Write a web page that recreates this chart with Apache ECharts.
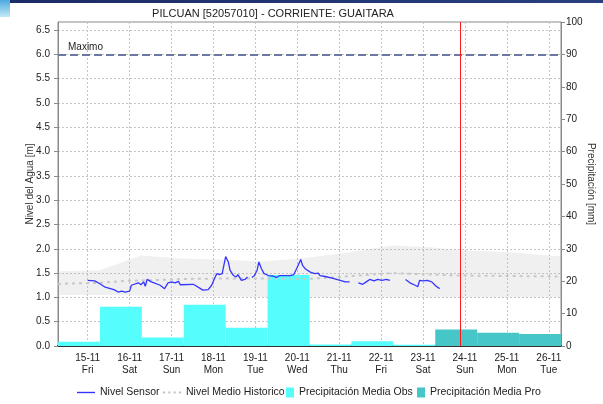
<!DOCTYPE html>
<html><head><meta charset="utf-8">
<script src="https://cdn.jsdelivr.net/npm/echarts@6/dist/echarts.min.js"></script>
<style>html,body{margin:0;padding:0;background:#fff}#c{width:603px;height:404px}</style>
</head><body><div id="c"></div><script>
const chartTitle = 'PILCUAN [52057010] - CORRIENTE: GUAITARA';
const xStart = '2024-11-14 07:00';
const xEnd = '2024-11-26 07:00';
const tickDates = ['2024-11-15','2024-11-16','2024-11-17','2024-11-18','2024-11-19','2024-11-20','2024-11-21','2024-11-22','2024-11-23','2024-11-24','2024-11-25','2024-11-26'];
const dateLabels = ['15-11','16-11','17-11','18-11','19-11','20-11','21-11','22-11','23-11','24-11','25-11','26-11'];
const dayLabels = ['Fri','Sat','Sun','Mon','Tue','Wed','Thu','Fri','Sat','Sun','Mon','Tue'];

const sensorTime = ['2024-11-15 00:00','2024-11-15 04:00','2024-11-15 07:00','2024-11-15 10:00','2024-11-15 15:00','2024-11-15 17:30','2024-11-15 19:30','2024-11-15 21:30',
'2024-11-16 00:00','2024-11-16 01:00','2024-11-16 05:00','2024-11-16 06:30','2024-11-16 08:00','2024-11-16 09:00','2024-11-16 10:00','2024-11-16 12:30','2024-11-16 17:30','2024-11-16 20:00','2024-11-16 22:00',
'2024-11-17 00:00','2024-11-17 02:00','2024-11-17 04:00','2024-11-17 05:00','2024-11-17 12:30','2024-11-17 18:00','2024-11-17 21:00','2024-11-17 23:00',
'2024-11-18 01:00','2024-11-18 02:00','2024-11-18 03:30','2024-11-18 05:00','2024-11-18 06:00','2024-11-18 07:00','2024-11-18 08:30','2024-11-18 09:30','2024-11-18 11:30','2024-11-18 13:00','2024-11-18 14:00','2024-11-18 16:00','2024-11-18 18:00','2024-11-18 19:30','2024-11-18 21:00','2024-11-18 22:00','2024-11-18 23:30',
'2024-11-19 01:00','2024-11-19 02:00','2024-11-19 03:30','2024-11-19 05:00','2024-11-19 07:30','2024-11-19 10:00','2024-11-19 12:00','2024-11-19 14:00','2024-11-19 20:00','2024-11-19 22:00',
'2024-11-20 00:00','2024-11-20 02:00','2024-11-20 03:00','2024-11-20 04:30','2024-11-20 07:30','2024-11-20 10:00','2024-11-20 12:00','2024-11-20 13:00','2024-11-20 16:00','2024-11-20 20:30',
'2024-11-21 00:30','2024-11-21 03:30','2024-11-21 06:00','2024-11-21 08:30','2024-11-21 11:00','2024-11-21 13:30','2024-11-21 15:30','2024-11-21 17:30','2024-11-21 18:30','2024-11-21 20:00','2024-11-21 22:00',
'2024-11-22 00:30','2024-11-22 03:00','2024-11-22 05:00','2024-11-22 09:00','2024-11-22 14:00','2024-11-22 16:30','2024-11-22 19:30','2024-11-22 21:00','2024-11-22 22:00',
'2024-11-23 00:00','2024-11-23 02:30','2024-11-23 05:00','2024-11-23 07:30','2024-11-23 09:30'];
const sensorLevel = [1.35,1.34,1.28,1.21,1.16,1.11,1.13,1.11,
1.13,1.25,1.30,1.26,1.32,1.23,1.37,1.32,1.25,1.18,1.30,
1.32,1.30,1.33,1.26,1.27,1.15,1.16,1.25,
1.42,1.49,1.47,1.49,1.45,1.84,1.73,1.56,1.45,1.42,1.47,1.35,1.37,1.42,null,1.41,1.45,
1.56,1.73,1.59,1.49,1.45,1.44,1.41,1.45,1.45,1.47,
1.62,1.78,1.66,1.59,1.52,1.49,1.50,1.45,1.43,1.39,
1.35,1.32,1.32,null,1.30,1.27,1.32,1.37,1.40,1.34,1.37,
1.35,1.37,1.35,null,1.37,1.30,1.25,1.22,1.35,
1.34,1.35,1.32,1.23,1.18];

const histTime = ['2024-11-14 07:00','2024-11-15 07:00','2024-11-16 06:30','2024-11-17 05:00','2024-11-18 04:00','2024-11-19 03:00','2024-11-20 02:00','2024-11-21 06:00','2024-11-22 06:30','2024-11-23 04:00','2024-11-23 21:00','2024-11-25 02:00','2024-11-26 07:00'];
const histLow  = [1.05,1.05,1.04,1.03,1.02,1.01,1.00,1.00,1.00,1.00,1.00,1.00,1.00];
const histHigh = [1.54,1.56,1.86,1.80,1.78,1.74,1.80,1.93,2.07,2.03,1.97,1.93,1.84];

const meanTime = ['2024-11-14 07:00','2024-11-15 07:00','2024-11-15 22:30','2024-11-16 17:00','2024-11-17 08:00','2024-11-18 05:00','2024-11-19 03:00','2024-11-20 05:30','2024-11-21 00:30','2024-11-21 17:30','2024-11-22 06:30','2024-11-23 04:00','2024-11-23 21:00','2024-11-25 02:00','2024-11-26 07:00'];
const meanLevel = [1.28,1.30,1.34,1.36,1.38,1.39,1.39,1.38,1.42,1.47,1.50,1.47,1.45,1.44,1.43];

const maxLevel = 6.0;
const nowTime = '2024-11-23 21:00';

const obsStart = ['2024-11-14 07:00','2024-11-15 07:00','2024-11-16 07:00','2024-11-17 07:00','2024-11-18 07:00','2024-11-19 07:00','2024-11-20 07:00','2024-11-21 07:00','2024-11-22 07:00'];
const obsPrecip = [1.3,12.1,2.6,12.7,5.6,21.9,0.5,1.5,0.4];
const proStart = ['2024-11-23 07:00','2024-11-24 07:00','2024-11-25 07:00'];
const proPrecip = [5.1,4.1,3.7];
const barHours = 24;

function ts(s){const [d,h]=s.split(' ');const [Y,M,D]=d.split('-').map(Number);const [hh,mm]=(h||'00:00').split(':').map(Number);return new Date(Y,M-1,D,hh,mm).getTime();}
function pad(n){return (n<10?'0':'')+n;}

const FONT = 'Liberation Sans, Arial, sans-serif';
const chart = echarts.init(document.getElementById('c'), null, {renderer:'canvas'});
const levelMax = maxLevel/90*100;

function barRender(params, api){
  const p0 = api.coord([api.value(0), api.value(2)]);
  const p1 = api.coord([api.value(1), 0]);
  return {type:'rect', shape:{x:p0[0], y:p0[1], width:p1[0]-p0[0], height:p1[1]-p0[1]}, style:{fill:api.visual('color')}};
}
const dotIcon = 'path://M0,0H2V2H0Z M5,0H7V2H5Z M10,0H12V2H10Z M15,0H17V2H15Z';
const lineIcon = 'path://M0,0H18V1.4H0Z';
const legText = {fontSize:10.5, color:'#222', fontFamily:FONT};
function leg(left, w, h, item){ return {left:left, top:387, padding:0, itemWidth:w, itemHeight:h, textStyle:legText, data:[item]}; }

const option = {
  animation:false,
  textStyle:{fontFamily:FONT},
  title:{text:chartTitle, left:268, top:3, textAlign:'center', textStyle:{fontSize:11, fontWeight:'normal', color:'#222', fontFamily:FONT}},
  graphic:[
    {type:'rect', left:0, top:0, shape:{width:603,height:3}, style:{fill:new echarts.graphic.LinearGradient(0,0,1,0,[{offset:0,color:'#1b2b66'},{offset:1,color:'#2a3f80'}])}, z:10},
    {type:'rect', left:0, top:0, shape:{width:10,height:17}, style:{fill:new echarts.graphic.LinearGradient(0,0,0,1,[{offset:0,color:'#4ea9e0'},{offset:1,color:'#c2eaf8'}])}, z:11}
  ],
  grid:{left:58, right:42, top:22, bottom:58, outerBoundsMode:'none', containLabel:false, show:true, borderColor:'#8a8a8a', borderWidth:1, backgroundColor:'transparent'},
  legend:[
    leg(77, 18, 8, {name:'Nivel Sensor', icon:lineIcon}),
    leg(163, 18, 8, {name:'Nivel Medio Historico', icon:dotIcon}),
    leg(286, 8, 10, {name:'Precipitación Media Obs', icon:'rect'}),
    leg(417, 8, 10, {name:'Precipitación Media Pro', icon:'rect'})
  ],
  xAxis:{type:'time', min:ts(xStart), max:ts(xEnd), minInterval:864e5, maxInterval:864e5,
    axisLine:{show:true, lineStyle:{color:'#333', type:[1,1], width:2}},
    axisTick:{show:false},
    axisLabel:{fontSize:10, color:'#222', lineHeight:12, margin:6, showMinLabel:false, showMaxLabel:false, hideOverlap:false,
      formatter:function(v){const d=new Date(v); if(d.getHours()!==0||d.getMinutes()!==0) return ''; const k=d.getFullYear()+'-'+pad(d.getMonth()+1)+'-'+pad(d.getDate()); const i=tickDates.indexOf(k); return i<0?'':dateLabels[i]+'\n'+dayLabels[i];}},
    splitLine:{show:true, lineStyle:{color:'#c4c4c4', type:[2,2]}}
  },
  yAxis:[
    {type:'value', min:0, max:levelMax, interval:0.5, position:'left',
      name:'Nivel del Agua [m]', nameLocation:'middle', nameGap:23, nameMoveOverlap:false, nameTextStyle:{fontSize:10, color:'#333', fontFamily:FONT},
      axisLine:{show:true, lineStyle:{color:'#8a8a8a'}}, axisTick:{show:true, length:4, lineStyle:{color:'#8a8a8a'}},
      axisLabel:{fontSize:10, color:'#222', margin:8, showMaxLabel:false, formatter:v=>v.toFixed(1)},
      splitLine:{show:true, lineStyle:{color:'#c4c4c4', type:[2,2]}}},
    {type:'value', min:0, max:100, interval:10, position:'right',
      name:'Precipitación [mm]', nameLocation:'middle', nameGap:25, nameRotate:-90, nameMoveOverlap:false, nameTextStyle:{fontSize:10, color:'#333', fontFamily:FONT},
      axisLine:{show:true, lineStyle:{color:'#8a8a8a'}}, axisTick:{show:true, length:4, lineStyle:{color:'#8a8a8a'}},
      axisLabel:{fontSize:10, color:'#222', margin:5},
      splitLine:{show:false}}
  ],
  series:[
    {name:'band', type:'custom', silent:true, clip:true, z:1, data:[[ts(histTime[0]), histLow[0]]],
      renderItem:function(params, api){
        if(params.dataIndex!==0) return null;
        const pts=[];
        for(let i=0;i<histTime.length;i++) pts.push(api.coord([ts(histTime[i]), histHigh[i]]));
        for(let i=histTime.length-1;i>=0;i--) pts.push(api.coord([ts(histTime[i]), histLow[i]]));
        return {type:'polygon', shape:{points:pts}, style:{fill:'rgba(185,185,185,0.22)'}};
      }},
    {name:'Precipitación Media Obs', type:'custom', yAxisIndex:1, clip:true, z:3, itemStyle:{color:'#55fdfd'},
      encode:{x:[0,1], y:2},
      data:obsStart.map((s,i)=>[ts(s), ts(s)+barHours*3600e3, obsPrecip[i]]), renderItem:barRender},
    {name:'Precipitación Media Pro', type:'custom', yAxisIndex:1, clip:true, z:3, itemStyle:{color:'#46c6c6'},
      encode:{x:[0,1], y:2},
      data:proStart.map((s,i)=>[ts(s), ts(s)+barHours*3600e3, proPrecip[i]]), renderItem:barRender},
    {name:'Nivel Medio Historico', type:'line', symbol:'none', z:4, color:'#c4c4c4', itemStyle:{color:'#c4c4c4'},
      lineStyle:{color:'#c8c8c8', width:2, type:[3,4]},
      data:meanTime.map((t,i)=>[ts(t), meanLevel[i]])},
    {name:'now', type:'custom', silent:true, z:6, data:[[ts(nowTime), 0]],
      renderItem:function(params, api){
        const p0 = api.coord([api.value(0), 0]);
        const p1 = api.coord([api.value(0), levelMax]);
        const x = Math.round(p0[0]) + 0.5;
        return {type:'line', shape:{x1:x, y1:p0[1], x2:x, y2:p1[1]}, style:{stroke:'#ff1a1a', lineWidth:1}};
      }},
    {name:'Nivel Sensor', type:'line', symbol:'none', z:5, color:'#3535ff', itemStyle:{color:'#3535ff'}, connectNulls:false,
      lineStyle:{color:'#3535ff', width:1.3},
      data:sensorTime.map((t,i)=>[ts(t), sensorLevel[i]]),
      markLine:{silent:true, symbol:['none','none'], animation:false,
        data:[
          {yAxis:maxLevel, lineStyle:{color:'#6b78a6', type:[8,4], width:2},
            label:{show:true, position:'insideStartTop', formatter:'Maximo', color:'#222', fontSize:10, distance:[10,2], fontFamily:FONT}}
        ]}}
  ]
};
chart.setOption(option);
</script></body></html>
